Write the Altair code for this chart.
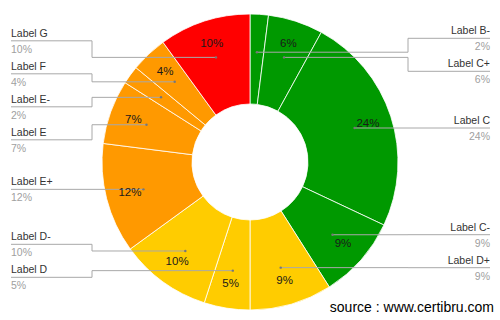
import math
import altair as alt
import pandas as pd

# ---- data ----
labels = ["Label B-", "Label C+", "Label C", "Label C-", "Label D+", "Label D",
          "Label D-", "Label E+", "Label E", "Label E-", "Label F", "Label G"]
values = [2, 6, 24, 9, 9, 5, 10, 12, 7, 2, 4, 10]
colors = ["#009900", "#009900", "#009900", "#009900",
          "#ffcc00", "#ffcc00", "#ffcc00",
          "#ff9900", "#ff9900", "#ff9900", "#ff9900",
          "#ff0000"]
source_text = "source : www.certibru.com"

# ---- layout ----
W, H = 500, 320
CX, CY = 250, 162
R_OUT, R_IN = 148, 58
R_TXT = 124
R_ANCHOR = 110
LEFT_X, RIGHT_X = 11, 490
LEFT_ELBOW, RIGHT_ELBOW = 92, 408
SPACING = 33
MIN_INNER = 3  # slices smaller than this get no in-slice label
FONT = "Liberation Sans"

total = sum(values)
cum = 0
rows = []
for i, (lab, v) in enumerate(zip(labels, values)):
    mid = (cum + v / 2) / total * 2 * math.pi
    cum += v
    rows.append(dict(idx=i, label=lab, value=v, pct=f"{v}%",
                     inner=f"{v}%" if v >= MIN_INNER else "",
                     ax=CX + R_ANCHOR * math.sin(mid),
                     ay=CY - R_ANCHOR * math.cos(mid),
                     side="right" if mid < math.pi else "left"))


def spread(items):
    items = sorted(items, key=lambda r: r["ay"])
    clusters = [[it] for it in items]

    def pos(cl):
        m = sum(c["ay"] for c in cl) / len(cl)
        start = m - SPACING * (len(cl) - 1) / 2
        return [start + SPACING * k for k in range(len(cl))]

    changed = True
    while changed:
        changed = False
        for k in range(len(clusters) - 1):
            a, b = pos(clusters[k]), pos(clusters[k + 1])
            if b[0] - a[-1] < SPACING:
                clusters[k] = clusters[k] + clusters[k + 1]
                del clusters[k + 1]
                changed = True
                break
    for cl in clusters:
        for c, y in zip(cl, pos(cl)):
            c["ly"] = y


spread([r for r in rows if r["side"] == "left"])
spread([r for r in rows if r["side"] == "right"])

line_rows = []
for r in rows:
    left = r["side"] == "left"
    ex = LEFT_ELBOW if left else RIGHT_ELBOW
    tx = LEFT_X if left else RIGHT_X
    pts = [(r["ax"], r["ay"]), (ex, r["ay"]), (ex, r["ly"]), (tx, r["ly"])]
    for k, (px, py) in enumerate(pts):
        line_rows.append(dict(label=r["label"], pt=k, px=px, py=py))
    r["tx"] = tx
    r["ny"] = r["ly"] - 4
    r["py"] = r["ly"] + 12

df = pd.DataFrame(rows)
lines_df = pd.DataFrame(line_rows)

xs = alt.Scale(domain=[0, W], nice=False, zero=False)
ys = alt.Scale(domain=[0, H], nice=False, zero=False, reverse=True)

arcs = alt.Chart(df).mark_arc(outerRadius=R_OUT, innerRadius=R_IN,
                              stroke="white", strokeWidth=0.8).encode(
    theta=alt.Theta("value:Q", stack=True),
    order=alt.Order("idx:Q"),
    color=alt.Color("label:N", scale=alt.Scale(domain=labels, range=colors), legend=None),
    x=alt.value(CX), y=alt.value(CY),
)

pct_in = alt.Chart(df).mark_text(radius=R_TXT, font=FONT, fontSize=11.5,
                                 color="#1a1a1a", baseline="middle", align="center").encode(
    theta=alt.Theta("value:Q", stack=True),
    order=alt.Order("idx:Q"),
    detail="label:N",
    text="inner:N",
    x=alt.value(CX), y=alt.value(CY),
)

leaders = alt.Chart(lines_df).mark_line(color="#a8a8a8", strokeWidth=1).encode(
    x=alt.X("px:Q", scale=xs, axis=None),
    y=alt.Y("py:Q", scale=ys, axis=None),
    detail="label:N",
    order="pt:Q",
)

dots = alt.Chart(df).mark_circle(size=6, color="#777777", opacity=1).encode(
    x=alt.X("ax:Q", scale=xs, axis=None),
    y=alt.Y("ay:Q", scale=ys, axis=None),
)


def text_layer(side, field, yfield, color):
    return alt.Chart(df).transform_filter(
        alt.datum.side == side
    ).mark_text(font=FONT, fontSize=10.5, color=color,
                align="left" if side == "left" else "right",
                baseline="alphabetic").encode(
        x=alt.X("tx:Q", scale=xs, axis=None),
        y=alt.Y(f"{yfield}:Q", scale=ys, axis=None),
        text=f"{field}:N",
    )


names_l = text_layer("left", "label", "ny", "#333333")
names_r = text_layer("right", "label", "ny", "#333333")
pcts_l = text_layer("left", "pct", "py", "#a0a0a0")
pcts_r = text_layer("right", "pct", "py", "#a0a0a0")

src = alt.Chart(pd.DataFrame({"t": [source_text]})).mark_text(
    font=FONT, fontSize=14, color="#000000", align="right", baseline="alphabetic"
).encode(text="t:N", x=alt.value(494), y=alt.value(312))

chart = alt.layer(arcs, leaders, dots, pct_in, names_l, names_r, pcts_l, pcts_r, src).properties(
    width=W, height=H, padding=0, autosize="none", background="white"
).configure_view(stroke=None)

chart.save("out.html", embed_options={"renderer": "svg", "actions": False})
